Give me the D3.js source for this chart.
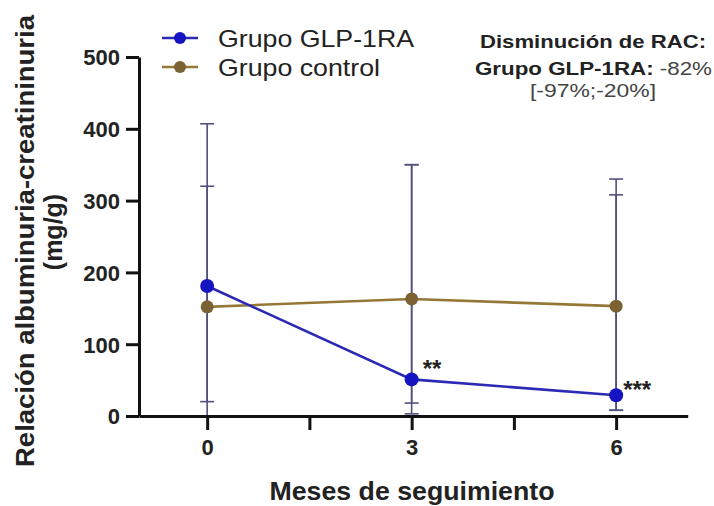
<!DOCTYPE html>
<html>
<head>
<meta charset="utf-8">
<script src="https://cdn.jsdelivr.net/npm/d3@7"></script>
<style>
  body { margin: 0; background: #fff; }
  svg { display: block; font-family: "Liberation Sans", Arial, sans-serif; }
</style>
</head>
<body>
<div id="chart"></div>
<script>
// data
let months = [0, 3, 6];
let glpMean = [181, 51, 29];
let glpUpper = [407, 350, 330];
let glpLower = [20, 18, 8];
let ctrlMean = [152, 163, 153];
let ctrlUpper = [320, 350, 308];
let ctrlLower = [0, 3, 8];
let yTicks = [0, 100, 200, 300, 400, 500];
let xTicks = [0, 1.5, 3, 4.5, 6];
let seriesNames = ["Grupo GLP-1RA", "Grupo control"];

let width = 714,
    height = 506;

let svg = d3.select("#chart")
    .append("svg")
    .attr("width", width)
    .attr("height", height);

let x = d3.scaleLinear()
    .domain([-1, 7.05])
    .range([139, 687.7]);

let y = d3.scaleLinear()
    .domain([0, 500])
    .range([416, 57]);

let blueLine = "#2a2ab4",
    blueDot = "#1414c0",
    brownLine = "#957838",
    brownDot = "#7a6232",
    errColor = "#50507e";

// error bars first, so lines and dots sit on top
function errorBars(upper, lower) {
    let g = svg.append("g")
        .attr("stroke", errColor)
        .attr("stroke-width", 1.6);
    months.forEach(function(m, i) {
        g.append("line")
            .attr("x1", x(m)).attr("x2", x(m))
            .attr("y1", y(upper[i])).attr("y2", y(lower[i]));
        [upper[i], lower[i]].forEach(function(v) {
            g.append("line")
                .attr("x1", x(m) - 7).attr("x2", x(m) + 7)
                .attr("y1", y(v)).attr("y2", y(v));
        });
    });
}
errorBars(ctrlUpper, ctrlLower);
errorBars(glpUpper, glpLower);

let line = d3.line()
    .x(function(d) { return x(d[0]); })
    .y(function(d) { return y(d[1]); });

function series(means, lc, dc, r) {
    let pts = months.map(function(m, i) { return [m, means[i]]; });
    svg.append("path")
        .datum(pts)
        .attr("fill", "none")
        .attr("stroke", lc)
        .attr("stroke-width", 2.6)
        .attr("d", line);
    svg.append("g").selectAll("circle")
        .data(pts)
        .enter()
        .append("circle")
        .attr("cx", function(d) { return x(d[0]); })
        .attr("cy", function(d) { return y(d[1]); })
        .attr("r", r)
        .attr("fill", dc);
}
series(ctrlMean, brownLine, brownDot, 6.5);
series(glpMean, blueLine, blueDot, 7);

// axes
let yAxis = svg.append("g")
    .attr("transform", `translate(${x(-1)},0)`)
    .call(d3.axisLeft(y).tickValues(yTicks).tickSize(13).tickPadding(6).tickSizeOuter(0));

let xAxis = svg.append("g")
    .attr("transform", `translate(0,${y(0)})`)
    .call(d3.axisBottom(x).tickValues(xTicks).tickSize(14).tickPadding(9).tickSizeOuter(0)
        .tickFormat(function(d) { return Number.isInteger(d) ? d : ""; }));

[yAxis, xAxis].forEach(function(a) {
    a.select(".domain").attr("stroke", "#111").attr("stroke-width", 3);
    a.selectAll(".tick line").attr("stroke", "#111").attr("stroke-width", 3);
    a.selectAll(".tick text")
        .attr("fill", "#222")
        .style("font-size", "22px")
        .style("font-weight", "bold");
});
yAxis.selectAll(".tick text").attr("dy", "0.36em");

// significance stars
svg.append("text")
    .attr("x", x(3) + 11).attr("y", 377)
    .style("font-size", "24px").style("font-weight", "bold")
    .attr("fill", "#222")
    .text("**");
svg.append("text")
    .attr("x", x(6) + 7).attr("y", 398)
    .style("font-size", "24px").style("font-weight", "bold")
    .attr("fill", "#222")
    .text("***");

// legend
let legend = svg.append("g");
[[blueLine, blueDot, 38, 47, 196], [brownLine, brownDot, 67, 76, 162]].forEach(function(l, i) {
    legend.append("line")
        .attr("x1", 162).attr("x2", 198)
        .attr("y1", l[2]).attr("y2", l[2])
        .attr("stroke", l[0]).attr("stroke-width", 2.6);
    legend.append("circle")
        .attr("cx", 180).attr("cy", l[2]).attr("r", 6)
        .attr("fill", l[1]);
    legend.append("text")
        .attr("x", 218).attr("y", l[3])
        .attr("textLength", l[4]).attr("lengthAdjust", "spacingAndGlyphs")
        .style("font-size", "24px")
        .attr("fill", "#222")
        .text(seriesNames[i]);
});

// annotation
svg.append("text")
    .attr("x", 593).attr("y", 48)
    .attr("text-anchor", "middle")
    .attr("textLength", 226).attr("lengthAdjust", "spacingAndGlyphs")
    .style("font-size", "18px").style("font-weight", "bold")
    .attr("fill", "#222")
    .text("Disminución de RAC:");

let ann2 = svg.append("text")
    .attr("x", 475).attr("y", 75)
    .attr("textLength", 237).attr("lengthAdjust", "spacingAndGlyphs")
    .style("font-size", "19px")
    .attr("fill", "#222");
ann2.append("tspan").style("font-weight", "bold").text("Grupo GLP-1RA:");
ann2.append("tspan").attr("fill", "#444").text(" -82%");

svg.append("text")
    .attr("x", 593).attr("y", 97)
    .attr("text-anchor", "middle")
    .attr("textLength", 126).attr("lengthAdjust", "spacingAndGlyphs")
    .style("font-size", "18px")
    .attr("fill", "#444")
    .text("[-97%;-20%]");

// axis titles
svg.append("text")
    .attr("transform", "translate(34,241) rotate(-90)")
    .attr("text-anchor", "middle")
    .attr("textLength", 452).attr("lengthAdjust", "spacingAndGlyphs")
    .style("font-size", "25px").style("font-weight", "bold")
    .attr("fill", "#222")
    .text("Relación albuminuria-creatininuria");

svg.append("text")
    .attr("transform", "translate(62,232) rotate(-90)")
    .attr("text-anchor", "middle")
    .style("font-size", "25px").style("font-weight", "bold")
    .attr("fill", "#222")
    .text("(mg/g)");

svg.append("text")
    .attr("x", 412).attr("y", 500)
    .attr("text-anchor", "middle")
    .attr("textLength", 285).attr("lengthAdjust", "spacingAndGlyphs")
    .style("font-size", "26px").style("font-weight", "bold")
    .attr("fill", "#222")
    .text("Meses de seguimiento");
</script>
</body>
</html>
